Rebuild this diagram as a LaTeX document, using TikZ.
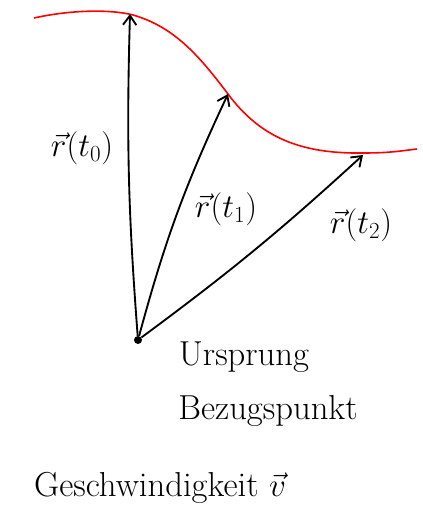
\documentclass[tikz,border=0pt]{standalone}
\usepackage{amsmath}
\usepackage{xcolor}
\usepackage{tikz}
\usetikzlibrary{arrows.meta,positioning}

\begin{document}
\begin{tikzpicture}[
    x=0.75pt, y=0.75pt,
    font=\fontsize{26}{30}\selectfont,
    vec/.style={-{Straight Barb[length=7pt, width=10pt]}, line width=1.4pt},
    path/.style={red, line width=1.2pt},
    dot/.style={circle, fill, inner sep=0pt, minimum size=6pt},
    lbl/.style={inner sep=0pt, align=left}
]
\useasboundingbox (0,0) rectangle (422,522);
\coordinate (p0) at (130,508);
\coordinate (p1) at (228,428);
\coordinate (p2) at (363,367);
% trajectory
\draw[path] (34,504) .. controls (70,512) and (110,513) .. (133,507)
    .. controls (175,495) and (200,465) .. (228,428)
    .. controls (260,385) and (300,368) .. (363,369)
    .. controls (390,369) and (400,371) .. (417,373);
\node[dot] (O) at (138,182) {};
% position vectors
\draw[vec] (O) to[bend left=3] (p0);
\draw[vec] (O) to[bend left=5] (p1);
\draw[vec] (O) to[bend right=3] (p2);
\node[lbl] (r0) at (82,374) {$\vec r(t_0)$};
\node[lbl] (r1) at (226,313) {$\vec r(t_1)$};
\node[lbl] (r2) at (361,297) {$\vec r(t_2)$};
\node[lbl] (orig) at (244,165) {Ursprung};
\node[lbl] (ref) at (268,111) {Bezugspunkt};
\node[lbl] (speed) at (160,34) {Geschwindigkeit $\vec v$};
\end{tikzpicture}
\end{document}
